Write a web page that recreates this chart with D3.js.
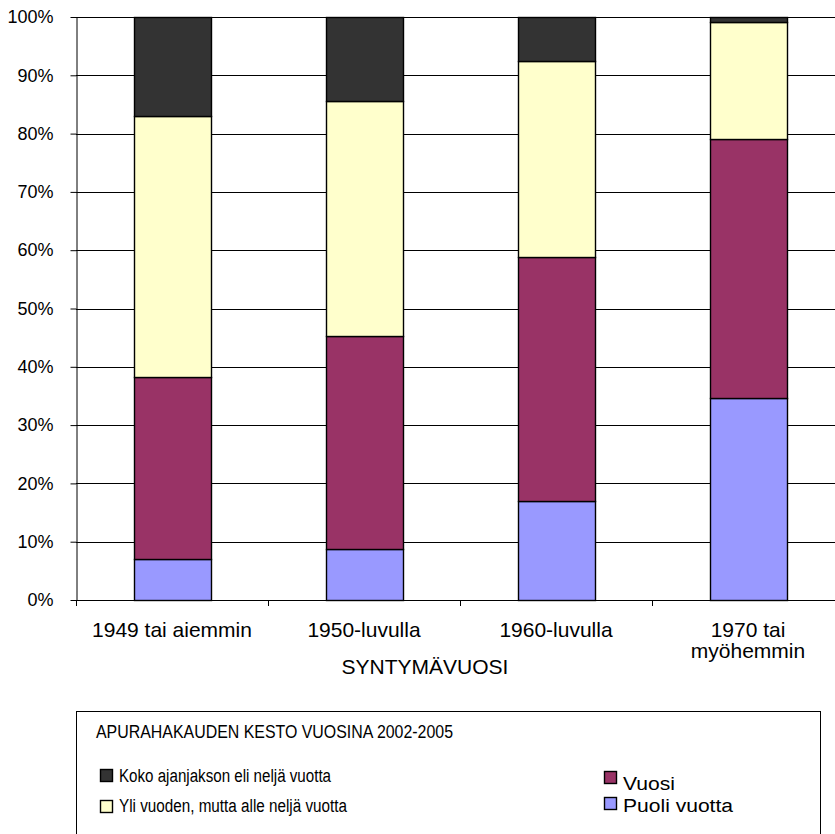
<!DOCTYPE html>
<html>
<head>
<meta charset="utf-8">
<script src="https://cdn.jsdelivr.net/npm/d3@7"></script>
<style>
  body { margin: 0; background: #fff; }
  svg { font-family: "Liberation Sans", Arial, sans-serif; }
</style>
</head>
<body>
<svg id="chart" width="835" height="834"></svg>
<script>
// categories (birth year groups)
const categories = [["1949 tai aiemmin"], ["1950-luvulla"], ["1960-luvulla"], ["1970 tai", "myöhemmin"]];
const catKeys = categories.map(c => c.join(" "));

// series, bottom to top (percent)
const puoli = [7.0, 8.7, 17.0, 34.7];
const vuosi = [31.3, 36.6, 41.9, 44.3];
const yli = [44.7, 40.3, 33.6, 20.2];
const koko = [17.0, 14.4, 7.5, 0.8];

const seriesNames = ["Puoli vuotta", "Vuosi", "Yli vuoden, mutta alle neljä vuotta", "Koko ajanjakson eli neljä vuotta"];
const seriesColors = ["#9999ff", "#993366", "#ffffcc", "#333333"];
const yTicks = [0, 10, 20, 30, 40, 50, 60, 70, 80, 90, 100];

const svg = d3.select("#chart");
const plotLeft = 76, plotTop = 17, plotBottom = 600, plotRight = 844;

const rows = catKeys.map((k, i) => ({
  key: k, p0: puoli[i], p1: vuosi[i], p2: yli[i], p3: koko[i]
}));
const stack = d3.stack().keys(["p0", "p1", "p2", "p3"])(rows);

const x = d3.scaleBand().domain(catKeys).range([plotLeft, plotRight]).paddingInner(0.6).paddingOuter(0.3);
const y = d3.scaleLinear().domain([0, 100]).range([plotBottom, plotTop]);

// gridlines
svg.append("g")
  .selectAll("line")
  .data(yTicks.filter(t => t > 0))
  .join("line")
  .attr("x1", plotLeft).attr("x2", 835)
  .attr("y1", d => Math.round(y(d)) + 0.5).attr("y2", d => Math.round(y(d)) + 0.5)
  .attr("stroke", "#000").attr("stroke-width", 1);

// y axis
const yAxis = svg.append("g")
  .attr("transform", `translate(${plotLeft + 0.5},0)`)
  .call(d3.axisLeft(y).tickValues(yTicks).tickFormat(d => d + "%").tickSize(6).tickSizeOuter(0));
yAxis.select(".domain").attr("stroke", "#000");
yAxis.selectAll(".tick line").attr("stroke", "#000");
yAxis.selectAll(".tick text")
  .attr("x", -23)
  .attr("font-size", 18).attr("font-family", "Liberation Sans, Arial, sans-serif").attr("fill", "#000");

// bars
svg.append("g")
  .selectAll("g")
  .data(stack)
  .join("g")
  .attr("fill", (d, i) => seriesColors[i])
  .selectAll("rect")
  .data(d => d)
  .join("rect")
  .attr("x", d => Math.round(x(d.data.key)) + 0.5)
  .attr("y", d => Math.round(y(d[1])) + 0.5)
  .attr("width", Math.round(x.bandwidth()))
  .attr("height", d => Math.round(y(d[0])) - Math.round(y(d[1])))
  .attr("stroke", "#000").attr("stroke-width", 1.4);

// x axis
const xStep = x.step();
svg.append("line")
  .attr("x1", plotLeft).attr("x2", 835)
  .attr("y1", plotBottom + 0.5).attr("y2", plotBottom + 0.5)
  .attr("stroke", "#000");
svg.append("g")
  .selectAll("line")
  .data(d3.range(0, 4))
  .join("line")
  .attr("x1", i => Math.round(plotLeft + i * xStep) + 0.5)
  .attr("x2", i => Math.round(plotLeft + i * xStep) + 0.5)
  .attr("y1", plotBottom).attr("y2", plotBottom + 6)
  .attr("stroke", "#000");

const xl = svg.append("g")
  .selectAll("text")
  .data(categories)
  .join("text")
  .attr("x", (d, i) => x(catKeys[i]) + x.bandwidth() / 2)
  .attr("y", 637)
  .attr("text-anchor", "middle")
  .attr("font-size", 21).attr("fill", "#000");
xl.selectAll("tspan")
  .data(d => d)
  .join("tspan")
  .attr("x", function () { return d3.select(this.parentNode).attr("x"); })
  .attr("dy", (d, i) => i === 0 ? 0 : 21)
  .text(d => d);

svg.append("text")
  .attr("x", 425).attr("y", 674)
  .attr("text-anchor", "middle")
  .attr("font-size", 21).attr("fill", "#000")
  .text("SYNTYMÄVUOSI");

// legend (text is slightly condensed in the original)
const lg = svg.append("g");
lg.append("rect")
  .attr("x", 76.5).attr("y", 711.5)
  .attr("width", 744).attr("height", 140)
  .attr("fill", "#fff").attr("stroke", "#000");
lg.append("text")
  .attr("x", 96).attr("y", 738)
  .attr("font-size", 18).attr("fill", "#000")
  .attr("textLength", 357).attr("lengthAdjust", "spacingAndGlyphs")
  .text("APURAHAKAUDEN KESTO VUOSINA 2002-2005");

const legendItems = [
  { s: 3, x: 100, y: 769, ty: 782, w: 212 },
  { s: 2, x: 100, y: 800, ty: 812, w: 228 },
  { s: 1, x: 604, y: 771, ty: 790, w: 52 },
  { s: 0, x: 604, y: 797, ty: 812, w: 110 }
];
const li = lg.selectAll("g.item")
  .data(legendItems)
  .join("g")
  .attr("class", "item");
li.append("rect")
  .attr("x", d => d.x + 0.5).attr("y", d => d.y + 0.5)
  .attr("width", 12).attr("height", 12)
  .attr("fill", d => seriesColors[d.s])
  .attr("stroke", "#000").attr("stroke-width", 1.4);
li.append("text")
  .attr("x", d => d.x + 19).attr("y", d => d.ty)
  .attr("font-size", 18).attr("fill", "#000")
  .attr("textLength", d => d.w).attr("lengthAdjust", "spacingAndGlyphs")
  .text(d => seriesNames[d.s]);
</script>
</body>
</html>
